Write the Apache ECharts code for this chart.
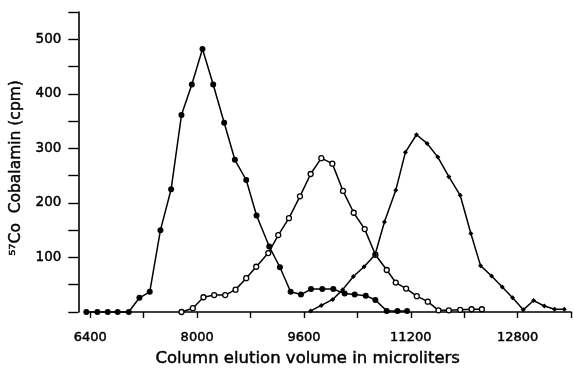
<!DOCTYPE html>
<html>
<head>
<meta charset="utf-8">
<script src="https://cdn.jsdelivr.net/npm/echarts@6/dist/echarts.min.js"></script>
<style>
  html, body { margin: 0; padding: 0; background: #fff; }
  #chart1 { width: 574px; height: 374px; }
</style>
</head>
<body>
<div id="chart1"></div>
<script>
// elution profiles
var vol1 = [6340, 6505, 6660, 6810, 6975, 7135, 7290, 7450, 7610, 7765, 7920, 8080, 8240, 8405, 8565, 8735,
            8890, 9080, 9240, 9400, 9555, 9705, 9875, 10040, 10210, 10360, 10525, 10670, 10840, 11000, 11145];
var cpm1 = [0, 0, 0, 0, 0, 26, 37, 150, 225, 361, 417, 482, 417, 347, 279, 242,
            177, 120, 82, 37, 32, 42, 42, 42, 34, 32, 30, 22, 2, 2, 2];

var vol2 = [7765, 7935, 8095, 8255, 8420, 8575, 8735, 8885, 9065, 9215, 9375, 9540, 9700, 9860, 10025,
            10185, 10345, 10510, 10670, 10840, 10975, 11130, 11290, 11455, 11615, 11770, 11940, 12110, 12265];
var cpm2 = [0, 7, 27, 31, 31, 41, 62, 83, 108, 141, 172, 212, 253, 282, 272,
            222, 182, 152, 105, 77, 54, 43, 29, 19, 3, 3, 4, 5, 5];

var vol3 = [9700, 9860, 10030, 10180, 10340, 10500, 10665, 10805, 10975, 11120, 11285, 11445, 11605,
            11770, 11940, 12100, 12245, 12410, 12570, 12725, 12885, 13040, 13200, 13355, 13500];
var cpm3 = [2, 12, 23, 41, 65, 83, 105, 165, 223, 293, 325, 309, 284,
            248, 214, 144, 85, 66, 46, 26, 4, 21, 11, 5, 5];

var xTicks = [6400, 8000, 9600, 11200, 12800];
var yTicks = [100, 200, 300, 400, 500];

function pairs(xs, ys) {
    var out = [];
    for (var i = 0; i < xs.length; i++) {
        out.push([xs[i], ys[i]]);
    }
    return out;
}

var _chart1 = null;
function initChart1() {
    _chart1 = echarts.init(document.getElementById('chart1'), null, { renderer: 'canvas' });
    var font = 'DejaVu Sans';
    var lineStyle = { color: '#000', width: 1.5 };
    // scanned text is a bit heavier than a plain regular face
    var ink = { color: '#000', textBorderColor: '#000', textBorderWidth: 0.45 };

    var option = {
        backgroundColor: '#fff',
        animation: false,
        grid: { left: 89, right: -11, top: 12, bottom: 62 },
        xAxis: {
            type: 'value',
            min: 6400,
            max: 13600,
            interval: 800,
            offset: 6,
            name: 'Column elution volume in microliters',
            nameLocation: 'middle',
            nameGap: 32,
            nameTextStyle: Object.assign({
                fontFamily: font, fontSize: 16.5,
                verticalAlign: 'top', padding: [0, 46, 0, 0]
            }, ink),
            axisLine: { lineStyle: { color: '#000', width: 1.6 } },
            axisTick: { length: 6, lineStyle: { color: '#000', width: 1.4 } },
            axisLabel: Object.assign({
                margin: 13, fontFamily: font, fontSize: 13,
                formatter: function (v) { return xTicks.indexOf(v) >= 0 ? String(v) : ''; }
            }, ink),
            splitLine: { show: false }
        },
        yAxis: {
            type: 'value',
            min: 0,
            max: 550,
            interval: 50,
            offset: 12,
            name: '\u2075\u2077Co  Cobalamin (cpm)',
            nameLocation: 'middle',
            nameGap: 47,
            nameTextStyle: Object.assign({
                fontFamily: font, fontSize: 15.5,
                padding: [0, 12, 0, 0]
            }, ink),
            axisLine: { show: true, lineStyle: { color: '#000', width: 1.6 } },
            axisTick: { show: true, length: 10, lineStyle: { color: '#000', width: 1.4 } },
            axisLabel: Object.assign({
                margin: 17, fontFamily: font, fontSize: 13.5,
                formatter: function (v) { return yTicks.indexOf(v) >= 0 ? String(v) : ''; }
            }, ink),
            splitLine: { show: false }
        },
        series: [
            {
                name: 'peak1',
                type: 'line',
                clip: false,
                data: pairs(vol1, cpm1),
                symbol: 'circle',
                symbolSize: 6,
                itemStyle: { color: '#000' },
                lineStyle: lineStyle
            },
            {
                name: 'peak2',
                type: 'line',
                clip: false,
                data: pairs(vol2, cpm2),
                symbol: 'circle',
                symbolSize: 5,
                itemStyle: { color: '#fff', borderColor: '#000', borderWidth: 1.3 },
                lineStyle: lineStyle
            },
            {
                name: 'peak3',
                type: 'line',
                clip: false,
                data: pairs(vol3, cpm3),
                symbol: 'diamond',
                symbolSize: 5,
                itemStyle: { color: '#000' },
                lineStyle: lineStyle
            }
        ]
    };

    _chart1.setOption(option);
}
initChart1();
</script>
</body>
</html>
